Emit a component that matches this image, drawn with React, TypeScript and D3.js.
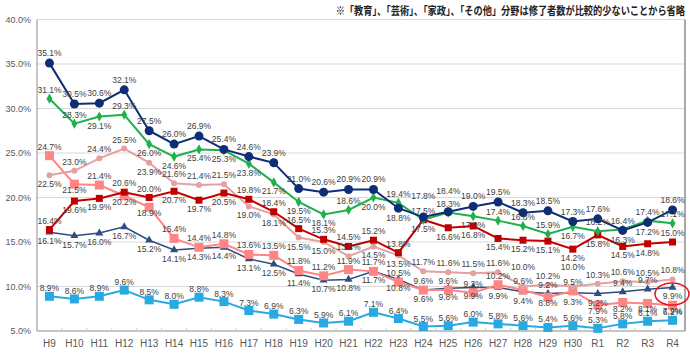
import * as d3 from 'd3';

const years = ['H9', 'H10', 'H11', 'H12', 'H13', 'H14', 'H15', 'H16', 'H17', 'H18', 'H19', 'H20', 'H21',
  'H22', 'H23', 'H24', 'H25', 'H26', 'H27', 'H28', 'H29', 'H30', 'R1', 'R2', 'R3', 'R4'];

const navy = [35.1, 30.5, 30.6, 32.1, 27.5, 26.0, 26.9, 25.4, 24.6, 23.9, 21.0, 20.6, 20.9,
  20.9, 18.8, 17.8, 18.4, 19.0, 19.5, 18.3, 18.5, 17.3, 17.6, 16.3, 17.2, 18.6];
const green = [31.1, 28.3, 29.1, 29.3, 26.0, 24.6, 25.4, 25.3, 23.8, 21.7, 19.5, 18.1, 18.6,
  20.0, 19.4, 17.5, 18.3, 17.9, 17.4, 16.8, 15.9, 16.7, 16.2, 16.4, 17.4, 17.1];
const lightPink = [22.5, 23.0, 24.4, 25.5, 23.9, 21.6, 21.4, 21.5, 19.0, 18.1, 15.5, 15.0, 13.4,
  14.5, 13.5, 11.7, 11.6, 11.5, 11.6, 10.0, 10.2, 10.0, 10.3, 10.6, 10.5, 10.8];
const salmon = [24.7, 21.5, 21.4, 20.2, 18.9, 15.4, 14.4, 14.8, 13.6, 13.5, 11.8, 11.2, 11.9,
  11.7, 10.5, 9.6, 9.6, 9.3, 10.2, 9.6, 8.8, 9.5, 7.9, 8.2, 8.1, 7.9];
const red = [16.4, 19.6, 19.9, 20.6, 20.0, 20.7, 19.7, 20.5, 19.8, 18.4, 16.5, 15.3, 14.5,
  15.2, 13.8, 17.5, 16.6, 16.8, 15.4, 15.2, 15.1, 14.2, 15.8, 14.5, 14.8, 15.0];
const darkBlue = [16.1, 15.7, 16.0, 16.7, 15.2, 14.1, 14.3, 14.4, 13.1, 12.5, 11.4, 10.7, 10.8,
  11.7, 10.8, 9.6, 9.8, 9.9, 9.9, 9.4, 9.2, 9.3, 9.2, 9.4, 9.7, 9.9];
const lightBlue = [8.9, 8.6, 8.9, 9.6, 8.5, 8.0, 8.8, 8.3, 7.3, 6.9, 6.3, 5.9, 6.1,
  7.1, 6.4, 5.5, 5.6, 6.0, 5.8, 5.6, 5.4, 5.6, 5.3, 5.8, 6.1, 6.2];

const yTicks = [5, 10, 15, 20, 25, 30, 35, 40];
const note = '※「教育」、「芸術」、「家政」、「その他」分野は修了者数が比較的少ないことから省略';

// flip: years whose label sits on the other side, lift: labels pushed one more row out
const series = [
  { name: 'lightBlue', data: lightBlue, color: '#29a9e1', width: 2, marker: 'square', size: 9, above: true,
    up: 5, down: 12, flip: [] as string[], lift: [] as string[] },
  { name: 'darkBlue', data: darkBlue, color: '#2f4d7e', width: 1.5, marker: 'triangle', size: 6, above: false,
    up: 6, down: 12, flip: ['H29', 'R2', 'R3'], lift: [] },
  { name: 'salmon', data: salmon, color: '#ff8585', width: 2, marker: 'square', size: 9, above: true,
    up: 6, down: 9, flip: ['H10', 'H12', 'H13', 'H29', 'R1', 'R2', 'R3', 'R4'], lift: [] },
  { name: 'lightPink', data: lightPink, color: '#e3a1a1', width: 2, marker: 'circle', size: 3, above: true,
    up: 6, down: 12, flip: ['H9', 'H13', 'H17', 'H18', 'H19', 'H20', 'H22', 'H23'], lift: ['H28', 'H30'] },
  { name: 'red', data: red, color: '#c00000', width: 2, marker: 'square', size: 7, above: false,
    up: 6, down: 12, flip: ['H9', 'H12', 'H13', 'H17', 'H18', 'H19', 'H20', 'H21', 'H22', 'H23', 'R4'], lift: [] },
  { name: 'green', data: green, color: '#20b04b', width: 2, marker: 'diamond', size: 5, above: true,
    up: 6, down: 12, flip: ['H11', 'H13', 'H14', 'H15', 'H16', 'H17', 'H18', 'H19', 'H20', 'H22', 'H26', 'H30'], lift: [] },
  { name: 'navy', data: navy, color: '#0d2d75', width: 2, marker: 'circle', size: 4.5, above: true,
    up: 7, down: 13, flip: ['H23', 'R2', 'R3'], lift: ['H24', 'H25'] },
];

export default function App() {
  const W = 690, H = 362;
  const left = 37, right = 685, top = 19.5, bottom = 331;

  const x = d3.scalePoint<string>().domain(years).range([left, right]).padding(0.5);
  const y = d3.scaleLinear().domain([5, 40]).range([bottom, top]);
  const step = x.step();

  const line = d3.line<number>()
    .x((d, i) => x(years[i]) as number)
    .y(d => y(d));

  const marker = (s: typeof series[0], cx: number, cy: number, key: string) => {
    if (s.marker === 'circle')
      return <circle key={key} cx={cx} cy={cy} r={s.size} fill={s.color} />;
    if (s.marker === 'square')
      return <rect key={key} x={cx - s.size / 2} y={cy - s.size / 2} width={s.size} height={s.size} fill={s.color} />;
    if (s.marker === 'triangle')
      return <path key={key} d={d3.symbol(d3.symbolTriangle, 28)() as string} transform={`translate(${cx},${cy})`} fill={s.color} />;
    return <path key={key} d={d3.symbol(d3.symbolDiamond, 30)() as string} transform={`translate(${cx},${cy})`} fill={s.color} />;
  };

  return (
    <svg width={W} height={H} style={{ position: 'absolute', left: 0, top: 0, background: '#fff' }}
      fontFamily="'Liberation Sans', Arial, sans-serif">
      <g transform="translate(685,15) scale(0.8,1)">
        <text x={0} y={0} textAnchor="end" fontSize={11.5} fontWeight="bold" fill="#222"
          fontFamily="'Noto Sans CJK JP', sans-serif">{note}</text>
      </g>

      {yTicks.map(t => (
        <g key={t}>
          {t > 5 && <line x1={left} x2={right} y1={y(t)} y2={y(t)} stroke="#d9d9d9" strokeWidth={1} />}
          <text x={31} y={y(t) + 3} textAnchor="end" fontSize={9} fill="#595959">{t.toFixed(1)}%</text>
        </g>
      ))}
      <line x1={right} x2={right} y1={top} y2={bottom} stroke="#8c8c8c" strokeWidth={1.5} />
      <line x1={left} x2={left} y1={top} y2={bottom} stroke="#8c8c8c" strokeWidth={1} />
      <line x1={left} x2={right} y1={bottom} y2={bottom} stroke="#8c8c8c" strokeWidth={1} />
      {years.slice(1).map(yr => {
        const bx = (x(yr) as number) - step / 2;
        return <line key={yr} x1={bx} x2={bx} y1={bottom - 3} y2={bottom} stroke="#d0d0d0" />;
      })}
      {years.map(yr => (
        <text key={yr} x={x(yr) as number} y={347} textAnchor="middle" fontSize={10} fill="#595959">{yr}</text>
      ))}

      {series.map(s => (
        <g key={s.name}>
          <path d={line(s.data) as string} fill="none" stroke={s.color} strokeWidth={s.width} />
          {s.data.map((v, i) => marker(s, x(years[i]) as number, y(v), s.name + i))}
        </g>
      ))}

      {series.map(s => (
        <g key={s.name + 'lab'}>
          {s.data.map((v, i) => {
            const up = s.flip.includes(years[i]) ? !s.above : s.above;
            const extra = s.lift.includes(years[i]) ? 11 : 0;
            const dy = up ? -s.up - extra : s.down + extra;
            return (
              <text key={i} x={x(years[i]) as number} y={y(v) + dy} textAnchor="middle"
                fontSize={8.5} fill="#404040">{v.toFixed(1)}%</text>
            );
          })}
        </g>
      ))}

      <ellipse cx={672} cy={294} rx={17} ry={11} fill="none" stroke="#e8141b" strokeWidth={1.5} />
    </svg>
  );
}
